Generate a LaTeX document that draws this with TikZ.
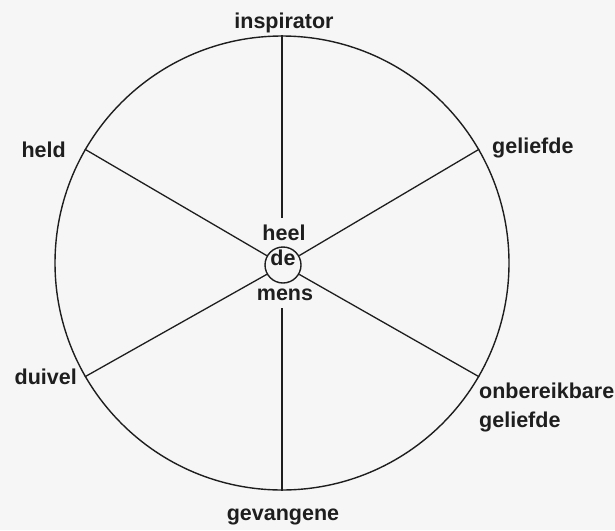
\documentclass[tikz,border=0pt]{standalone}
\usepackage{fontspec}
\setmainfont{Liberation Sans}
\definecolor{ink}{RGB}{30,30,30}
\definecolor{paper}{RGB}{246,246,246}
\begin{document}
\begin{tikzpicture}[x=1pt,y=-1pt,
  lbl/.style={font=\fontsize{21.5}{26}\selectfont\bfseries, text=ink, inner sep=0pt},
  ring/.style={draw=ink, line width=1.4pt, circle, inner sep=0pt},
  spoke/.style={draw=ink, line width=1.3pt}]
\fill[paper] (0,0) rectangle (615,530);
\useasboundingbox (0,0) rectangle (615,530);
\node[ring, minimum size=454pt] (big) at (282,263) {};
\node[ring, minimum size=36pt, lbl] (de) at (283,265) {\raisebox{0pt}[0pt][0pt]{de}};
\coordinate (topin) at (282,218);
\coordinate (botin) at (282,308);
\draw[spoke] (big.90) -- (topin);
\draw[spoke] (botin) -- (big.270);
\draw[spoke] (de.30) -- (big.30);
\draw[spoke] (de.150) -- (big.150);
\draw[spoke] (de.210) -- (big.210);
\draw[spoke] (de.330) -- (big.330);
\node[lbl, anchor=base] (heel) at (284,240) {heel};
\node[lbl, anchor=base] (mens) at (285,300) {mens};
\node[lbl, anchor=base] (inspirator) at (284,28) {inspirator};
\node[lbl, anchor=base east] (held) at (66,157) {held};
\node[lbl, anchor=base west] (geliefde) at (492,153) {geliefde};
\node[lbl, anchor=base west, align=left] (onbereikbare) at (479,398) {onbereikbare};
\node[lbl, anchor=base west] (geliefde2) at (479,427) {geliefde};
\node[lbl, anchor=base east] (duivel) at (77,384) {duivel};
\node[lbl, anchor=base] (gevangene) at (283,520) {gevangene};
\end{tikzpicture}
\end{document}
